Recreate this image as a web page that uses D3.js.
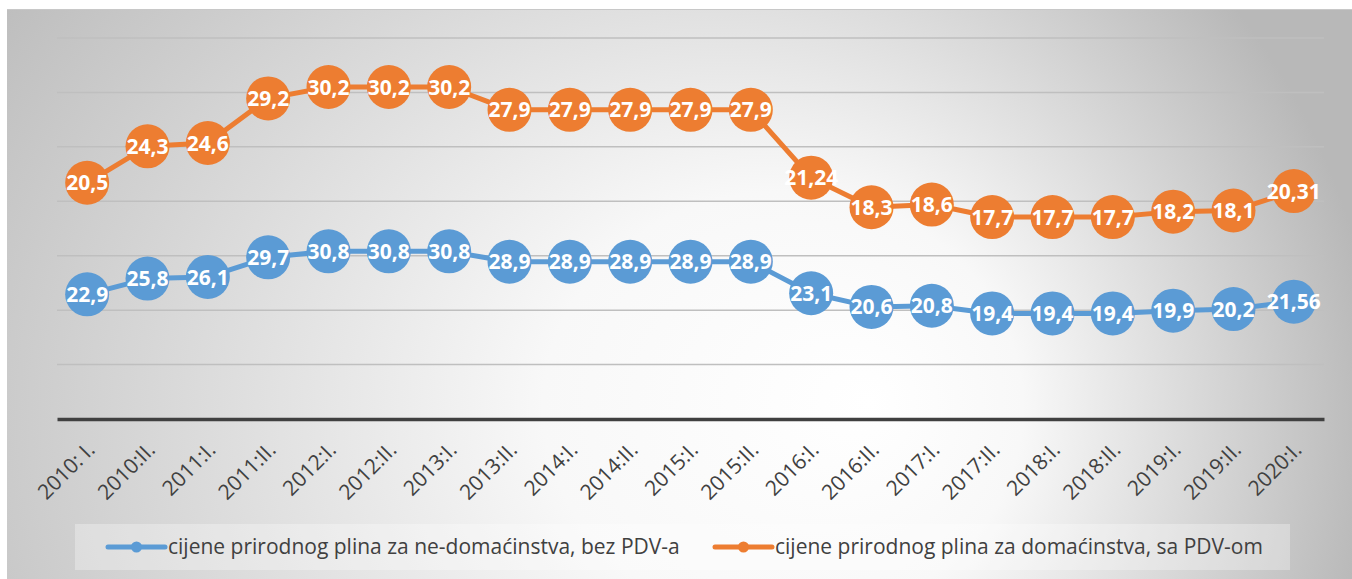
<!DOCTYPE html>
<html>
<head>
<meta charset="utf-8">
<script src="https://cdn.jsdelivr.net/npm/d3@7"></script>
<style>
  body { margin: 0; background: #fff; }
  svg { display: block; }
</style>
</head>
<body>
<div id="chart"></div>
<script>
// periods (half years)
var periods = ['2010: I.', '2010:II.', '2011:I.', '2011:II.', '2012:I.', '2012:II.', '2013:I.',
    '2013:II.', '2014:I.', '2014:II.', '2015:I.', '2015:II.', '2016:I.', '2016:II.', '2017:I.',
    '2017:II.', '2018:I.', '2018:II.', '2019:I.', '2019:II.', '2020:I.']

// prices without VAT, non-households
var nonHouseholds = [22.9, 25.8, 26.1, 29.7, 30.8, 30.8, 30.8, 28.9, 28.9, 28.9, 28.9, 28.9,
    23.1, 20.6, 20.8, 19.4, 19.4, 19.4, 19.9, 20.2, 21.56]

// prices with VAT, households
var households = [20.5, 24.3, 24.6, 29.2, 30.2, 30.2, 30.2, 27.9, 27.9, 27.9, 27.9, 27.9,
    21.24, 18.3, 18.6, 17.7, 17.7, 17.7, 18.2, 18.1, 20.31]

var seriesNames = ['cijene prirodnog plina za ne-domaćinstva, bez PDV-a',
    'cijene prirodnog plina za domaćinstva, sa PDV-om']
var colors = ['#5b9bd5', '#ed7d31']
var yTicks = [0, 10, 20, 30, 40, 50, 60, 70]

var W = 1352, H = 579
var margin = { top: 38, right: 28, bottom: 160, left: 57 }
var width = W - margin.left - margin.right
var height = H - margin.top - margin.bottom

var svg = d3.select('#chart').append('svg')
    .attr('width', W)
    .attr('height', H)
    .style('font-family', '"Open Sans", sans-serif')

// background gradient
var defs = svg.append('defs')
var grad = defs.append('radialGradient')
    .attr('id', 'bg')
    .attr('gradientUnits', 'userSpaceOnUse')
    .attr('cx', 580).attr('cy', 420).attr('r', 800)
    .attr('fx', 870).attr('fy', 400)
    .attr('gradientTransform', 'translate(0,420) scale(1,0.9) translate(0,-420)')
grad.append('stop').attr('offset', 0).attr('stop-color', '#ffffff')
grad.append('stop').attr('offset', 0.3).attr('stop-color', '#f8f8f8')
grad.append('stop').attr('offset', 1).attr('stop-color', '#b8b8b8')

svg.append('rect')
    .attr('x', 7).attr('y', 9)
    .attr('width', W - 7).attr('height', H - 9)
    .style('fill', 'url(#bg)')
svg.append('line')
    .attr('x1', 7).attr('x2', W).attr('y1', 9.5).attr('y2', 9.5)
    .style('stroke', '#c8c8c8')

var g = svg.append('g')
    .attr('transform', 'translate(' + margin.left + ',' + margin.top + ')')

var x = d3.scaleBand()
    .domain(periods)
    .range([0, width])
var y = d3.scaleLinear()
    .domain([0, 70])
    .range([height, 0])

// gridlines
g.selectAll('.grid')
    .data(yTicks.slice(1))
    .enter().append('line')
    .attr('class', 'grid')
    .attr('x1', 0).attr('x2', width)
    .attr('y1', function (d) { return y(d) })
    .attr('y2', function (d) { return y(d) })
    .style('stroke', '#bfbfbf')
    .style('stroke-width', 1.5)

// x axis
var gx = g.append('g')
    .attr('transform', 'translate(0,' + height + ')')
    .call(d3.axisBottom(x).tickSize(0).tickPadding(0))
gx.select('.domain')
    .style('stroke', '#404040')
    .style('stroke-width', 3.5)
gx.selectAll('.tick text')
    .attr('x', 0).attr('y', 0).attr('dy', 0)
    .attr('transform', 'translate(9,32) rotate(-45)')
    .style('text-anchor', 'end')
    .style('font-family', '"Open Sans", sans-serif')
    .style('font-size', '21px')
    .style('fill', '#404040')

// stacked series
var rows = periods.map(function (p, i) { return { period: p, a: nonHouseholds[i], b: households[i] } })
var stack = d3.stack().keys(['a', 'b'])
var layers = stack(rows)

var line = d3.line()
    .x(function (d) { return x(d.data.period) + x.bandwidth() / 2 })
    .y(function (d) { return y(d[1]) })

layers.forEach(function (layer, k) {
    var sg = g.append('g')
    sg.append('path')
        .datum(layer)
        .attr('d', line)
        .style('fill', 'none')
        .style('stroke', colors[k])
        .style('stroke-width', 5)
        .style('stroke-linejoin', 'round')
    var pts = sg.selectAll('g.pt')
        .data(layer)
        .enter().append('g')
        .attr('transform', function (d) {
            return 'translate(' + (x(d.data.period) + x.bandwidth() / 2) + ',' + y(d[1]) + ')'
        })
    pts.append('circle')
        .attr('r', 22)
        .style('fill', colors[k])
    pts.append('text')
        .attr('dy', '0.36em')
        .style('text-anchor', 'middle')
        .style('fill', '#fff')
        .style('font-weight', 'bold')
        .style('font-size', '21px')
        .text(function (d) { return String(+(d[1] - d[0]).toFixed(2)).replace('.', ',') })
})

// legend
var leg = svg.append('g')
leg.append('rect')
    .attr('x', 75).attr('y', 524)
    .attr('width', 1215).attr('height', 46)
    .style('fill', '#ffffff')
    .style('opacity', 0.3)
var legX = [108, 715]
seriesNames.forEach(function (name, k) {
    var li = leg.append('g').attr('transform', 'translate(' + legX[k] + ',547)')
    li.append('line')
        .attr('x1', 0).attr('x2', 57)
        .style('stroke', colors[k])
        .style('stroke-width', 5)
        .style('stroke-linecap', 'round')
    li.append('circle')
        .attr('cx', 28.5).attr('r', 5.5)
        .style('fill', colors[k])
    li.append('text')
        .attr('x', 60)
        .attr('dy', '0.35em')
        .style('font-size', '21px')
        .style('fill', '#404040')
        .text(name)
})
</script>
</body>
</html>
